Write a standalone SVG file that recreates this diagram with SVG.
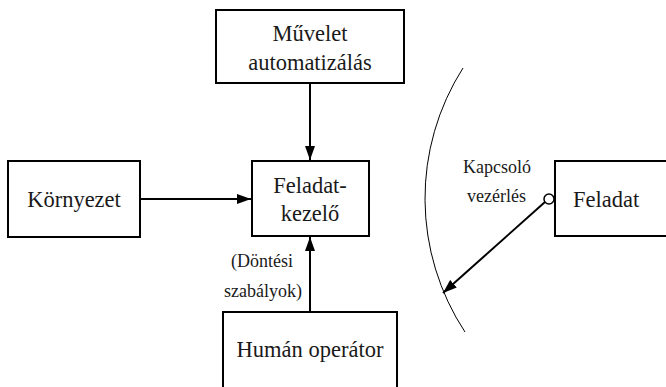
<svg xmlns="http://www.w3.org/2000/svg" width="666" height="387" viewBox="0 0 666 387">
  <style>
    .box { fill: #fff; stroke: #000; stroke-width: 2; }
    text { font-family: 'Liberation Serif', 'Times New Roman', serif; fill: #1a1a1a; }
    .lbl { font-size: 22.5px; }
    .sm { font-size: 18px; }
    .edge { fill: none; stroke: #000; stroke-width: 2; }
  </style>
  <defs>
    <marker id="arrow" viewBox="0 0 14 10" refX="14" refY="5" markerWidth="14" markerHeight="10" markerUnits="userSpaceOnUse" orient="auto">
      <path d="M0,0 L14,5 L0,10 Z" fill="#000"/>
    </marker>
  </defs>

  <rect width="666" height="387" fill="#fff"/>

  <g id="connectors">
    <line class="edge" x1="310" y1="83" x2="310" y2="160" marker-end="url(#arrow)"/>
    <line class="edge" x1="140" y1="199" x2="251" y2="199" marker-end="url(#arrow)"/>
    <line class="edge" x1="310" y1="312" x2="310" y2="237" marker-end="url(#arrow)"/>
    <line class="edge" x1="545" y1="202" x2="443" y2="293" marker-end="url(#arrow)"/>
    <circle cx="549" cy="199" r="5" fill="#fff" stroke="#000" stroke-width="1.5"/>
    <!-- switching boundary arc -->
    <path d="M463,68 A243,243 0 0 0 465,332" fill="none" stroke="#000" stroke-width="1"/>
    <text class="sm" x="293" y="267" text-anchor="end">(Döntési</text>
    <text class="sm" x="302" y="297" text-anchor="end">szabályok)</text>
    <text class="sm" x="463" y="173">Kapcsoló</text>
    <text class="sm" x="467" y="202">vezérlés</text>
  </g>

  <g id="muvelet">
    <rect class="box" x="216" y="10" width="188" height="73"/>
    <text class="lbl" x="310" y="41" text-anchor="middle">Művelet</text>
    <text class="lbl" x="310" y="70" text-anchor="middle">automatizálás</text>
  </g>

  <g id="kornyezet">
    <rect class="box" x="8" y="161" width="132" height="76"/>
    <text class="lbl" x="74" y="207" text-anchor="middle">Környezet</text>
  </g>

  <g id="feladatkezelo">
    <rect class="box" x="252" y="161" width="117" height="75"/>
    <text class="lbl" x="310" y="193" text-anchor="middle">Feladat-</text>
    <text class="lbl" x="310" y="221" text-anchor="middle">kezelő</text>
  </g>

  <g id="human">
    <rect class="box" x="223" y="312" width="174" height="80"/>
    <text class="lbl" x="310" y="357" text-anchor="middle">Humán operátor</text>
  </g>

  <g id="feladat">
    <rect class="box" x="555" y="161" width="120" height="75"/>
    <text class="lbl" x="573" y="207">Feladat</text>
  </g>
</svg>
